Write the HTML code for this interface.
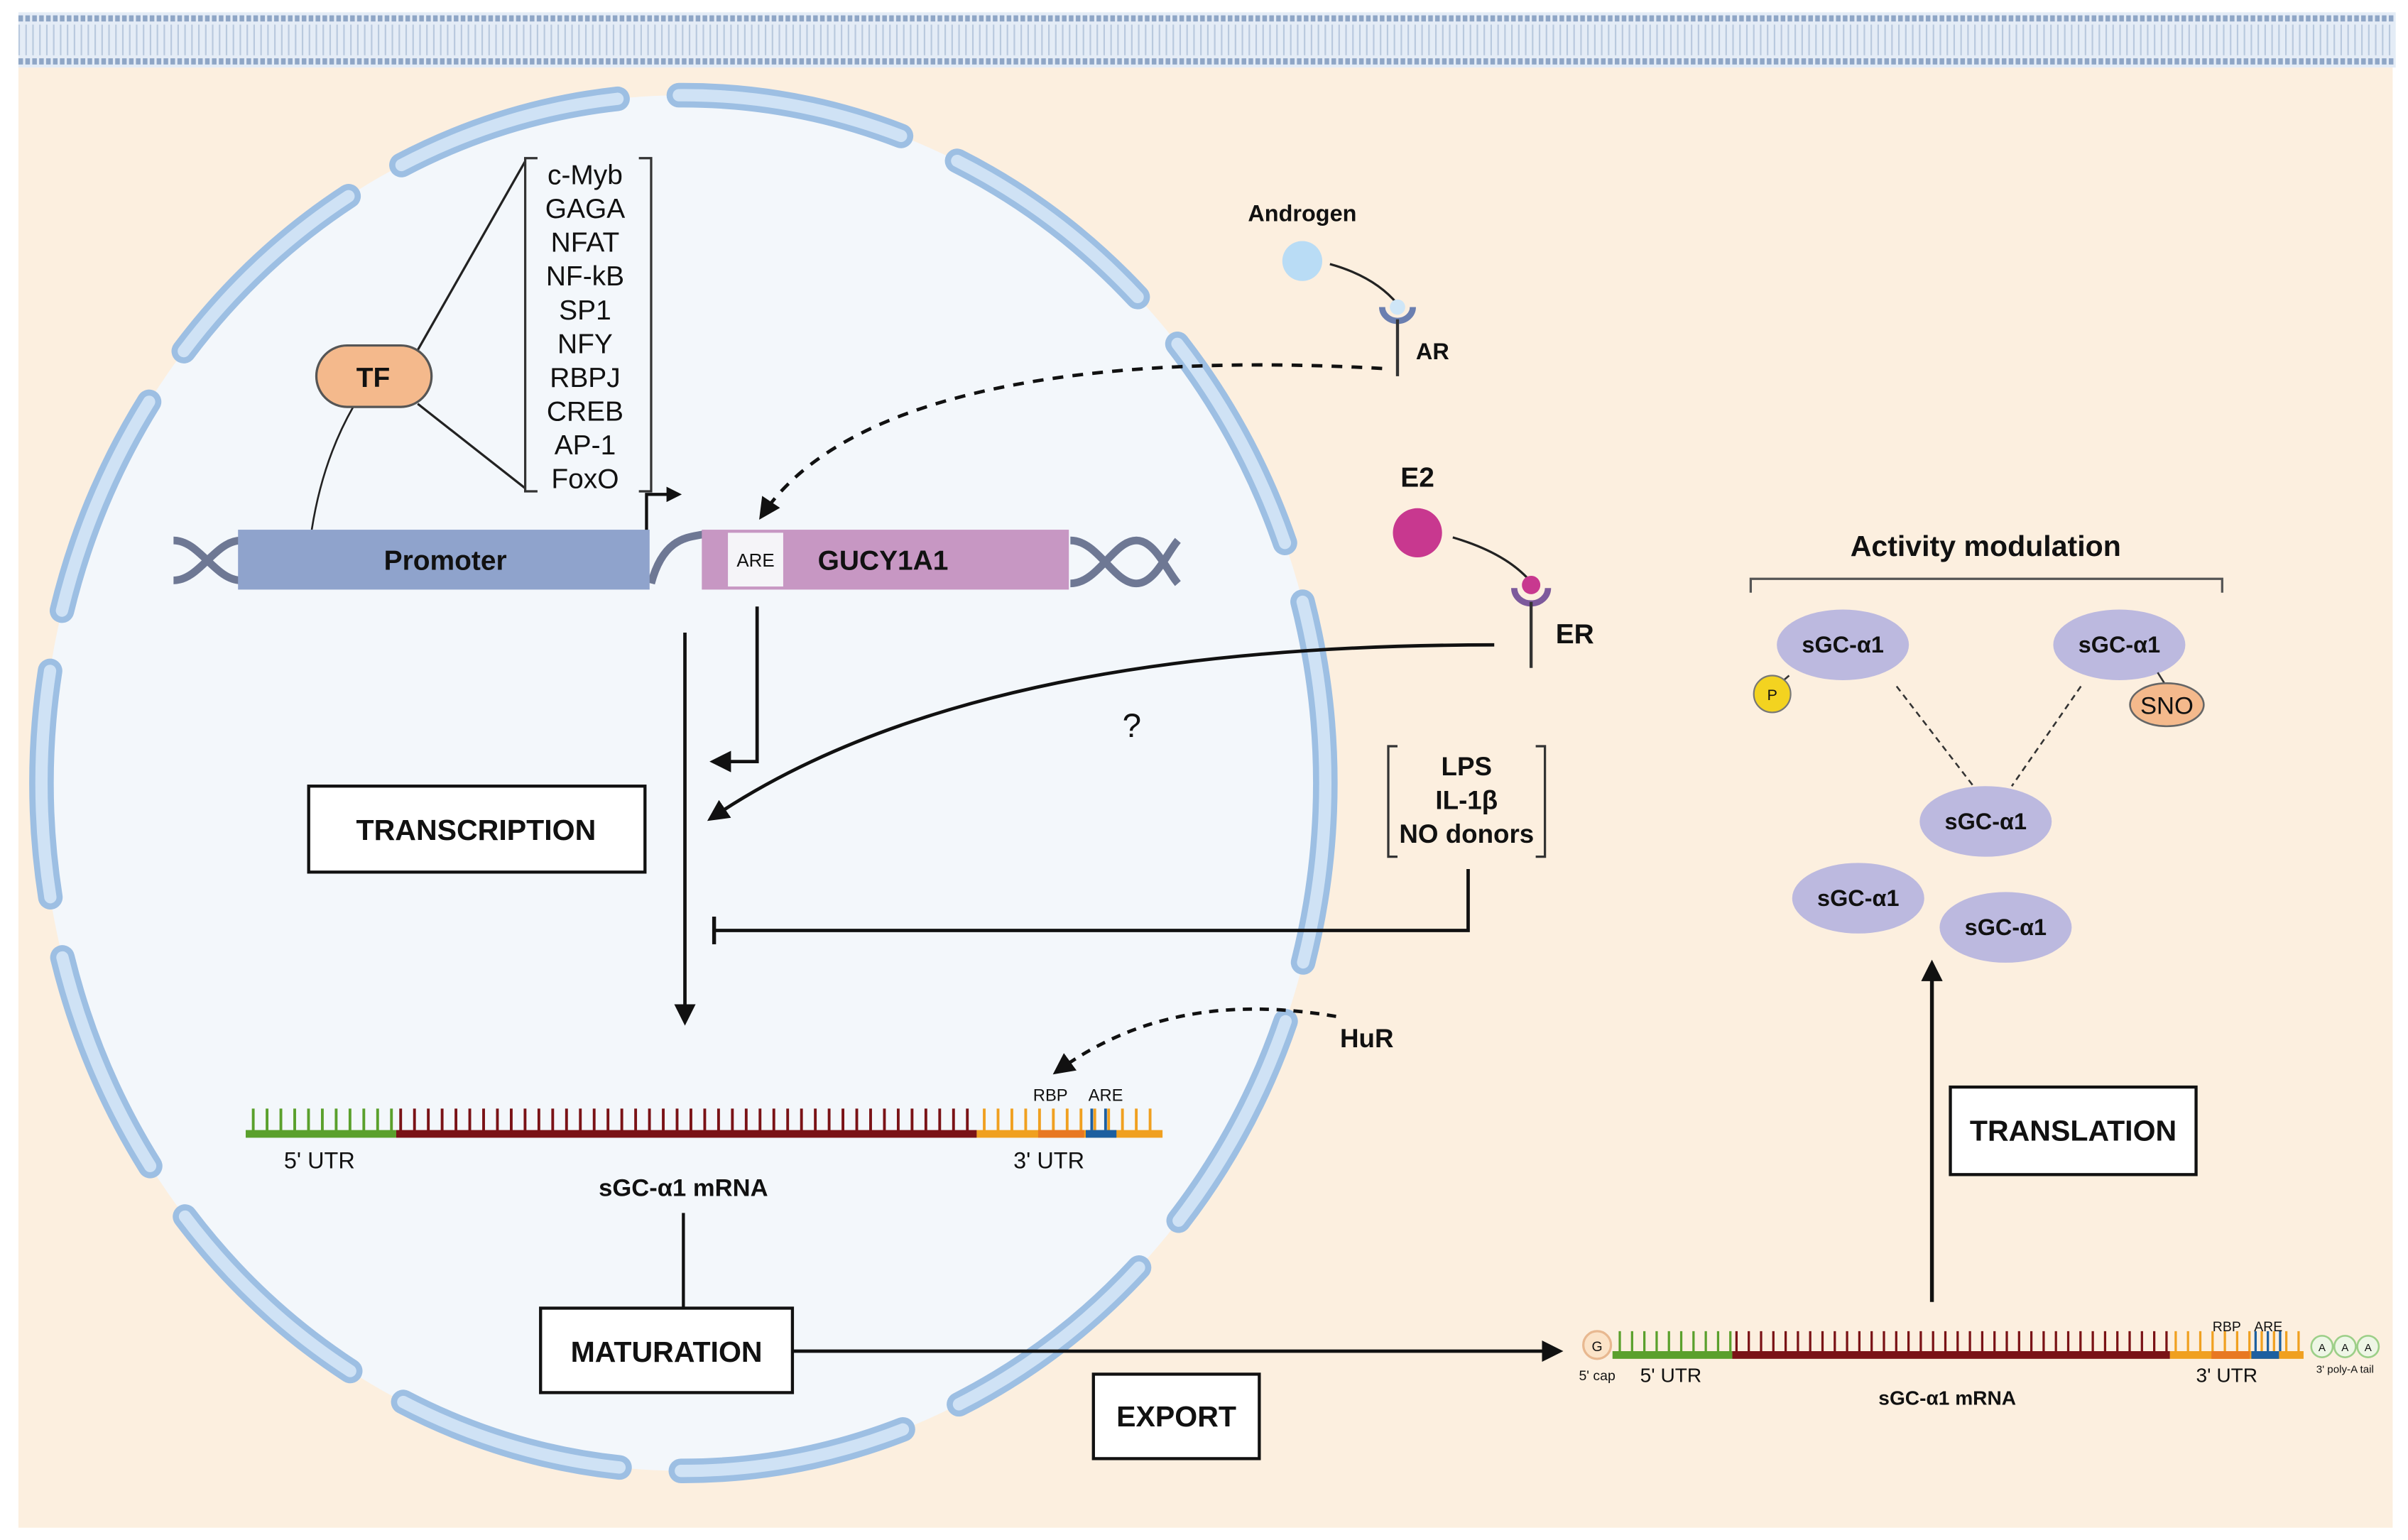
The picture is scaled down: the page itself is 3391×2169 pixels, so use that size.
<!DOCTYPE html>
<html><head><meta charset="utf-8"><style>
html,body{margin:0;padding:0;background:#fff}
svg{display:block}
text{font-family:"Liberation Sans",sans-serif;fill:#111}
.b{font-weight:bold}
</style></head><body>
<svg width="3391" height="2169" viewBox="0 0 1568 1003" preserveAspectRatio="none" xmlns="http://www.w3.org/2000/svg">
<defs>
<marker id="ah" markerWidth="10" markerHeight="10" refX="8" refY="5" orient="auto" markerUnits="userSpaceOnUse"><path d="M0,0 L10,5 L0,10 Z" fill="#111"/></marker>
<marker id="ah2" markerWidth="14" markerHeight="14" refX="11" refY="7" orient="auto" markerUnits="userSpaceOnUse"><path d="M0,0 L14,7 L0,14 Z" fill="#111"/></marker>
</defs>
<rect width="1568" height="1003" fill="#fff"/>
<!-- membrane -->
<rect x="12" y="8" width="1548" height="36" fill="#e4ecf6"/>
<line x1="12" y1="12" x2="1560" y2="12" stroke="#8fa6c6" stroke-width="4" stroke-dasharray="3 1.5"/>
<line x1="12" y1="40" x2="1560" y2="40" stroke="#8fa6c6" stroke-width="4" stroke-dasharray="3 1.5"/>
<line x1="12" y1="26" x2="1560" y2="26" stroke="#b9c9de" stroke-width="20" stroke-dasharray="1 3.5"/>
<rect x="12" y="44" width="1546" height="951" fill="#fcefdf"/>
<!-- nucleus -->
<ellipse cx="445" cy="510" rx="418" ry="448" fill="#f3f7fb"/>
<ellipse cx="445" cy="510" rx="418" ry="448" fill="none" stroke="#9dbfe3" stroke-width="16" stroke-linecap="round" stroke-dasharray="148 40" stroke-dashoffset="30"/>
<ellipse cx="445" cy="510" rx="418" ry="448" fill="none" stroke="#cfe2f5" stroke-width="8" stroke-linecap="round" stroke-dasharray="148 40" stroke-dashoffset="30"/>
<!-- TF -->
<line x1="272" y1="228" x2="342" y2="105" stroke="#222" stroke-width="1.5"/>
<line x1="272" y1="263" x2="342" y2="318" stroke="#222" stroke-width="1.5"/>
<path d="M230,265 Q210,300 203,345" stroke="#222" stroke-width="1.2" fill="none"/>
<rect x="206" y="225" width="75" height="40" rx="20" fill="#f4b98c" stroke="#555" stroke-width="1.5"/>
<text x="243" y="252" text-anchor="middle" class="b" font-size="18">TF</text>
<path d="M350,103 H342 V320 H350 M416,103 H424 V320 H416" stroke="#333" stroke-width="1.5" fill="none"/>
<g font-size="18" text-anchor="middle">
<text x="381" y="120">c-Myb</text><text x="381" y="142">GAGA</text><text x="381" y="164">NFAT</text><text x="381" y="186">NF-kB</text><text x="381" y="208">SP1</text><text x="381" y="230">NFY</text><text x="381" y="252">RBPJ</text><text x="381" y="274">CREB</text><text x="381" y="296">AP-1</text><text x="381" y="318">FoxO</text>
</g>
<!-- DNA -->
<g stroke="#6e7894" stroke-width="5" fill="none">
<path d="M113,352 C130,352 140,378 157,378 M113,378 C130,378 140,352 157,352"/>
<path d="M424,380 C432,350 448,350 458,348"/>
<path d="M697,352 C715,352 725,380 740,380 C752,380 760,360 767,352 M697,380 C715,380 725,352 740,352 C752,352 760,372 767,380"/>
</g>
<rect x="155" y="345" width="268" height="39" fill="#8fa3cc"/>
<text x="290" y="371" text-anchor="middle" class="b" font-size="18">Promoter</text>
<rect x="457" y="345" width="239" height="39" fill="#c797c3"/>
<rect x="474" y="347" width="36" height="35" fill="#f5f4f8"/>
<text x="492" y="369" text-anchor="middle" font-size="12">ARE</text>
<text x="575" y="371" text-anchor="middle" class="b" font-size="18">GUCY1A1</text>
<path d="M421,345 V322 H442" stroke="#111" stroke-width="2" fill="none" marker-end="url(#ah)"/>
<!-- androgen / AR -->
<text x="848" y="144" text-anchor="middle" class="b" font-size="15">Androgen</text>
<circle cx="848" cy="170" r="13" fill="#b9dcf5"/>
<path d="M866,172 Q895,180 910,198" stroke="#222" stroke-width="1.5" fill="none"/>
<circle cx="910" cy="200" r="5" fill="#cfe6f7"/>
<path d="M900,200 A10,9 0 0 0 920,200" stroke="#6b7fb0" stroke-width="4" fill="none"/>
<line x1="910" y1="208" x2="910" y2="245" stroke="#333" stroke-width="2"/>
<text x="922" y="234" class="b" font-size="15">AR</text>
<path d="M900,240 C760,232 560,240 496,336" stroke="#111" stroke-width="2.2" stroke-dasharray="7 6" fill="none" marker-end="url(#ah2)"/>
<!-- E2 / ER -->
<text x="923" y="317" text-anchor="middle" class="b" font-size="18">E2</text>
<circle cx="923" cy="347" r="16" fill="#c8388f"/>
<path d="M946,350 Q980,360 996,378" stroke="#222" stroke-width="1.5" fill="none"/>
<circle cx="997" cy="381" r="6" fill="#c8388f"/>
<path d="M986,383 A11,10 0 0 0 1008,383" stroke="#7d5a9c" stroke-width="4" fill="none"/>
<line x1="997" y1="392" x2="997" y2="435" stroke="#333" stroke-width="2"/>
<text x="1013" y="419" class="b" font-size="18">ER</text>
<path d="M973,420 C800,420 600,440 463,533" stroke="#111" stroke-width="2.2" fill="none" marker-end="url(#ah2)"/>
<text x="737" y="480" text-anchor="middle" font-size="22">?</text>
<!-- GUCY arrow -->
<path d="M493,395 V496 H465" stroke="#111" stroke-width="2.2" fill="none" marker-end="url(#ah2)"/>
<line x1="446" y1="412" x2="446" y2="665" stroke="#111" stroke-width="2.2" marker-end="url(#ah2)"/>
<rect x="201" y="512" width="219" height="56" fill="#fff" stroke="#111" stroke-width="2"/>
<text x="310" y="547" text-anchor="middle" class="b" font-size="19">TRANSCRIPTION</text>
<!-- LPS -->
<path d="M910,486 H904 V558 H910 M1000,486 H1006 V558 H1000" stroke="#333" stroke-width="1.5" fill="none"/>
<text x="955" y="505" text-anchor="middle" class="b" font-size="17">LPS</text>
<text x="955" y="527" text-anchor="middle" class="b" font-size="17">IL-1β</text>
<text x="955" y="549" text-anchor="middle" class="b" font-size="17">NO donors</text>
<path d="M956,566 V606 H465" stroke="#111" stroke-width="2.2" fill="none"/>
<line x1="465" y1="597" x2="465" y2="615" stroke="#111" stroke-width="2.5"/>
<!-- HuR -->
<text x="890" y="682" text-anchor="middle" class="b" font-size="17">HuR</text>
<path d="M870,662 C800,650 740,660 688,698" stroke="#111" stroke-width="2.2" stroke-dasharray="6 5" fill="none" marker-end="url(#ah2)"/>
<!-- nuclear mRNA -->
<g stroke-width="1.8">
<line x1="164" y1="730" x2="258" y2="730" stroke="#5aa02c" stroke-width="16" stroke-dasharray="1.8 7.2"/>
<line x1="260" y1="730" x2="636" y2="730" stroke="#7a1216" stroke-width="16" stroke-dasharray="1.8 7.2"/>
<line x1="640" y1="730" x2="757" y2="730" stroke="#f0a020" stroke-width="16" stroke-dasharray="1.8 7.2"/>
<line x1="710" y1="730" x2="727" y2="730" stroke="#1c5fa0" stroke-width="16" stroke-dasharray="1.8 7.2"/>
</g>
<rect x="160" y="736" width="98" height="5" fill="#5aa02c"/>
<rect x="258" y="736" width="378" height="5" fill="#7a1216"/>
<rect x="636" y="736" width="121" height="5" fill="#f0a020"/>
<rect x="676" y="736" width="30" height="5" fill="#e87822"/>
<rect x="707" y="736" width="20" height="5" fill="#1c5fa0"/>
<text x="684" y="717" text-anchor="middle" font-size="11">RBP</text>
<text x="720" y="717" text-anchor="middle" font-size="11">ARE</text>
<text x="208" y="761" text-anchor="middle" font-size="15">5' UTR</text>
<text x="683" y="761" text-anchor="middle" font-size="15">3' UTR</text>
<text x="445" y="779" text-anchor="middle" class="b" font-size="16">sGC-α1 mRNA</text>
<line x1="445" y1="790" x2="445" y2="852" stroke="#111" stroke-width="2"/>
<rect x="352" y="852" width="164" height="55" fill="#fff" stroke="#111" stroke-width="2"/>
<text x="434" y="887" text-anchor="middle" class="b" font-size="19">MATURATION</text>
<line x1="516" y1="880" x2="1015" y2="880" stroke="#111" stroke-width="2.2" marker-end="url(#ah2)"/>
<rect x="712" y="895" width="108" height="55" fill="#fff" stroke="#111" stroke-width="2"/>
<text x="766" y="929" text-anchor="middle" class="b" font-size="19">EXPORT</text>
<!-- cytoplasm mRNA -->
<circle cx="1040" cy="876" r="9" fill="#fbe3c8" stroke="#e8b890" stroke-width="1.5"/>
<text x="1040" y="880" text-anchor="middle" font-size="9" fill="#c07040">G</text>
<line x1="1054" y1="874" x2="1128" y2="874" stroke="#5aa02c" stroke-width="14" stroke-dasharray="1.5 6.5"/>
<line x1="1130" y1="874" x2="1413" y2="874" stroke="#7a1216" stroke-width="14" stroke-dasharray="1.5 6.5"/>
<line x1="1416" y1="874" x2="1502" y2="874" stroke="#f0a020" stroke-width="14" stroke-dasharray="1.5 6.5"/>
<line x1="1468" y1="874" x2="1486" y2="874" stroke="#1c5fa0" stroke-width="14" stroke-dasharray="1.5 6.5"/>
<rect x="1050" y="880" width="78" height="5" fill="#5aa02c"/>
<rect x="1128" y="880" width="285" height="5" fill="#7a1216"/>
<rect x="1413" y="880" width="87" height="5" fill="#f0a020"/>
<rect x="1440" y="880" width="25" height="5" fill="#e87822"/>
<rect x="1466" y="880" width="18" height="5" fill="#1c5fa0"/>
<g fill="#eef6e6" stroke="#9ccf88" stroke-width="1.2"><circle cx="1512" cy="877" r="7"/><circle cx="1527" cy="877" r="7"/><circle cx="1542" cy="877" r="7"/></g>
<g font-size="7" text-anchor="middle"><text x="1512" y="880" fill="#4a8a3a">A</text><text x="1527" y="880" fill="#4a8a3a">A</text><text x="1542" y="880" fill="#4a8a3a">A</text></g>
<text x="1450" y="867" text-anchor="middle" font-size="9">RBP</text>
<text x="1477" y="867" text-anchor="middle" font-size="9">ARE</text>
<text x="1040" y="899" text-anchor="middle" font-size="9">5' cap</text>
<text x="1088" y="900" text-anchor="middle" font-size="13">5' UTR</text>
<text x="1450" y="900" text-anchor="middle" font-size="13">3' UTR</text>
<text x="1527" y="894" text-anchor="middle" font-size="7">3' poly-A tail</text>
<text x="1268" y="915" text-anchor="middle" class="b" font-size="13">sGC-α1 mRNA</text>
<!-- translation -->
<line x1="1258" y1="848" x2="1258" y2="628" stroke="#111" stroke-width="2.5" marker-end="url(#ah2)"/>
<rect x="1270" y="708" width="160" height="57" fill="#fff" stroke="#111" stroke-width="2"/>
<text x="1350" y="743" text-anchor="middle" class="b" font-size="19">TRANSLATION</text>
<!-- activity modulation -->
<text x="1293" y="362" text-anchor="middle" class="b" font-size="19">Activity modulation</text>
<path d="M1140,386 V377 H1447 V386" stroke="#555" stroke-width="1.5" fill="none"/>
<line x1="1235" y1="447" x2="1285" y2="512" stroke="#333" stroke-width="1.2" stroke-dasharray="4 3"/>
<line x1="1355" y1="447" x2="1310" y2="512" stroke="#333" stroke-width="1.2" stroke-dasharray="4 3"/>
<g fill="#bcb9df">
<ellipse cx="1200" cy="420" rx="43" ry="23"/><ellipse cx="1380" cy="420" rx="43" ry="23"/>
<ellipse cx="1293" cy="535" rx="43" ry="23"/><ellipse cx="1210" cy="585" rx="43" ry="23"/><ellipse cx="1306" cy="604" rx="43" ry="23"/>
</g>
<g font-size="15" text-anchor="middle">
<text x="1200" y="425" class="b">sGC-α1</text><text x="1380" y="425" class="b">sGC-α1</text>
<text x="1293" y="540" class="b">sGC-α1</text><text x="1210" y="590" class="b">sGC-α1</text><text x="1306" y="609" class="b">sGC-α1</text>
</g>
<line x1="1165" y1="440" x2="1158" y2="446" stroke="#333" stroke-width="1.2"/>
<circle cx="1154" cy="452" r="12" fill="#f3d320" stroke="#777" stroke-width="1"/>
<text x="1154" y="456" text-anchor="middle" font-size="10">P</text>
<line x1="1405" y1="438" x2="1410" y2="446" stroke="#333" stroke-width="1.2"/>
<ellipse cx="1411" cy="459" rx="24" ry="14" fill="#f4b98c" stroke="#666" stroke-width="1.2"/>
<text x="1411" y="465" text-anchor="middle" font-size="16">SNO</text>
</svg>
</body></html>
